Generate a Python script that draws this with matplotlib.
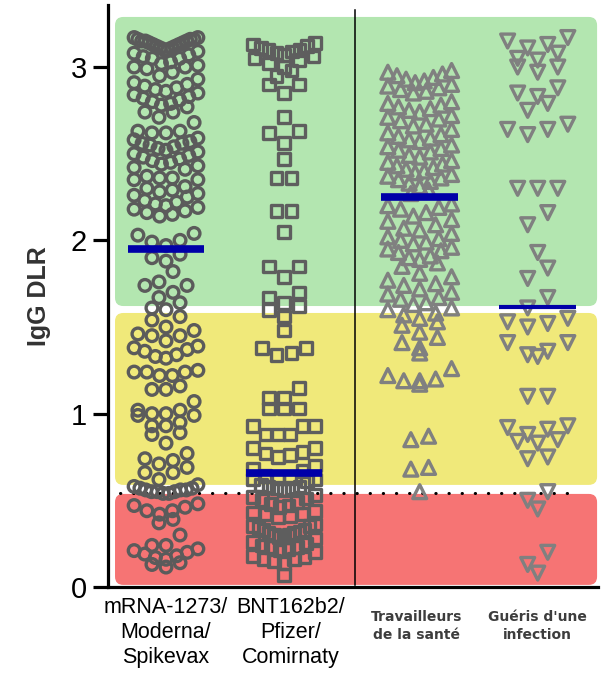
import numpy as np
import matplotlib
matplotlib.use('Agg')
import matplotlib.pyplot as plt
from matplotlib.patches import FancyBboxPatch

plt.rcParams['font.family'] = ['Liberation Sans', 'DejaVu Sans']

# valeurs IgG DLR
moderna = [3.17, 3.17, 3.16, 3.16, 3.16, 3.15, 3.15, 3.15, 3.14, 3.14, 3.13, 3.13,
           3.12, 3.12, 3.11, 3.11, 3.10, 3.10, 3.09, 3.08, 3.07, 3.06, 3.05, 3.05,
           3.03, 3.02, 3.01, 3.00, 3.00, 2.99, 2.97, 2.95, 2.93, 2.91, 2.90, 2.89,
           2.88, 2.87, 2.86, 2.85, 2.84, 2.83, 2.82, 2.81, 2.80, 2.79, 2.78, 2.77,
           2.74, 2.71, 2.74,
           2.68, 2.63, 2.62, 2.62, 2.63, 2.59, 2.58, 2.57, 2.56, 2.56, 2.55, 2.54,
           2.53, 2.52, 2.51, 2.50, 2.49, 2.48, 2.47, 2.46, 2.45, 2.44, 2.43, 2.42, 2.41,
           2.37, 2.36, 2.36, 2.35, 2.35, 2.31, 2.30, 2.29, 2.28, 2.27, 2.26, 2.25,
           2.23, 2.22, 2.21, 2.20, 2.19, 2.18, 2.17, 2.16, 2.15, 2.14,
           2.04, 2.03, 2.00, 1.99, 1.97, 1.92, 1.90, 1.88, 1.82, 1.76, 1.74, 1.74,
           1.70, 1.67, 1.64, 1.61, 1.60, 1.56, 1.54,
           1.50, 1.48, 1.46, 1.45, 1.45, 1.42, 1.39, 1.38, 1.37, 1.36, 1.34, 1.33,
           1.32, 1.25, 1.24, 1.24, 1.24, 1.22, 1.22, 1.16, 1.14, 1.14, 1.07, 1.02,
           1.02, 1.00, 1.00,
           0.99, 0.99, 0.95, 0.93, 0.93, 0.89, 0.88, 0.83, 0.77, 0.74, 0.73, 0.71,
           0.69, 0.66, 0.66, 0.62, 0.59, 0.58,
           0.57, 0.57, 0.56, 0.56, 0.56, 0.55, 0.55, 0.55, 0.54, 0.54,
           0.48, 0.47, 0.46, 0.44, 0.44, 0.42, 0.39, 0.37, 0.30,
           0.24, 0.24, 0.22, 0.21, 0.20, 0.19, 0.18, 0.17, 0.16, 0.14, 0.13, 0.115]

pfizer = [3.14, 3.13, 3.12, 3.11, 3.10, 3.10, 3.09, 3.08, 3.07, 3.06, 3.05, 3.04,
          3.02, 3.00, 2.98, 2.95,
          2.90, 2.90, 2.85, 2.71, 2.63, 2.62, 2.56, 2.47, 2.36, 2.36, 2.17, 2.17,
          2.05, 1.85, 1.85, 1.79, 1.70, 1.67, 1.64,
          1.62, 1.60, 1.56, 1.48, 1.38, 1.35, 1.34, 1.38, 1.15, 1.09, 1.03, 1.03,
          1.03, 1.09, 0.93, 0.88, 0.88, 0.88, 0.93, 0.93, 0.80, 0.77, 0.75, 0.76,
          0.78, 0.80, 0.70, 0.68, 0.67,
          0.64, 0.63, 0.63, 0.62, 0.62, 0.61, 0.59, 0.58, 0.58, 0.57, 0.57, 0.56,
          0.53, 0.52, 0.51, 0.50, 0.49, 0.48, 0.47, 0.46,
          0.44, 0.43, 0.42, 0.42, 0.41, 0.40,
          0.36, 0.35, 0.35, 0.34, 0.33, 0.33, 0.32, 0.31, 0.31, 0.30, 0.30, 0.29,
          0.29, 0.28,
          0.26, 0.25, 0.24, 0.23, 0.23, 0.22, 0.21, 0.20,
          0.18, 0.17, 0.16, 0.16, 0.15, 0.14, 0.07]

travailleurs = [2.98, 2.97, 2.96, 2.95, 2.94, 2.93, 2.92, 2.91, 2.90, 2.89, 2.88, 2.87,
                2.86, 2.85,
                2.80, 2.79, 2.78, 2.77, 2.76, 2.75, 2.74, 2.72, 2.71, 2.70, 2.69, 2.67,
                2.66, 2.64,
                2.62, 2.61, 2.60, 2.59, 2.58, 2.57, 2.55, 2.54, 2.53, 2.52, 2.51, 2.49,
                2.48, 2.46,
                2.45, 2.44, 2.43, 2.42, 2.41, 2.40, 2.39, 2.38, 2.37, 2.36, 2.35, 2.34,
                2.33, 2.31, 2.29, 2.27,
                2.21, 2.20, 2.19, 2.18, 2.16, 2.14, 2.12, 2.11, 2.09, 2.07, 2.06, 2.04,
                2.02, 2.01, 2.00, 1.99, 1.98, 1.96, 1.95, 1.94, 1.93, 1.91, 1.90, 1.89,
                1.87, 1.85, 1.81,
                1.79, 1.77, 1.75, 1.74, 1.72, 1.70, 1.69, 1.67, 1.66, 1.64, 1.63, 1.61,
                1.60, 1.58, 1.57, 1.55, 1.53, 1.51,
                1.47, 1.44, 1.41, 1.38, 1.35, 1.26, 1.22, 1.20, 1.19, 1.19, 1.17,
                0.87, 0.85, 0.69, 0.68, 0.55]

gueris = [3.17, 3.15, 3.13, 3.11, 3.08, 3.05, 3.04, 3.00, 3.00, 2.97,
          2.88, 2.85, 2.83, 2.79, 2.75, 2.67, 2.64, 2.64, 2.61,
          2.30, 2.30, 2.30, 2.16, 2.09, 1.93, 1.84, 1.78, 1.67,
          1.61, 1.55, 1.53, 1.52, 1.50, 1.41, 1.41, 1.36, 1.34, 1.33,
          1.10, 1.10, 0.93, 0.92, 0.91, 0.88, 0.85, 0.84, 0.83, 0.75, 0.74,
          0.55, 0.50, 0.45, 0.20, 0.13, 0.08]

medianes = [1.95, 0.66, 2.25, 1.615]
etiquettes = ['mRNA-1273/\nModerna/\nSpikevax', 'BNT162b2/\nPfizer/\nComirnaty',
              'Travailleurs\nde la santé', "Guéris d'une\ninfection"]
zones = [(0.012, 0.537, '#f67474'), (0.589, 1.581, '#f0e97a'), (1.621, 3.289, '#b3e6b0')]
seuil = 0.545

positions = [0, 1, 2.15, 3.15]
pos_etiq = [-0.005, 1.06, 2.12, 3.15]
marqueurs = ['o', 's', '^', 'v']
couleurs = ['#5b5b5b', '#5e5e5e', '#808080', '#808080']
tailles = [8.4, 8.4, 10, 10]
demis = [0.27, 0.26, 0.27, 0.31]
pas = [0.119, 0.125, 0.15, 0.17]


def essaim(vals, centre, demi, ecart, haut=0.075):
    v = np.sort(np.asarray(vals, dtype=float))[::-1]
    xs, ys = [], []
    i = 0
    while i < len(v):
        j = i
        while j < len(v) and v[i] - v[j] < haut:
            j += 1
        rang = np.sort(v[i:j])
        n = len(rang)
        d = ecart if n < 2 else min(ecart, 2 * demi / (n - 1))
        off = (np.arange(n) - (n - 1) / 2) * d
        ordre = np.argsort(np.abs(off), kind='stable')
        for k in range(n):
            xs.append(centre + off[ordre[k]])
            ys.append(rang[k])
        i = j
    return np.array(xs), np.array(ys)


fig = plt.figure(figsize=(6.02, 6.74), dpi=100)
ax = fig.add_axes([0.1794, 0.1291, 0.814, 0.8635])
ax.set_xlim(-0.4915, 3.661)
ax.set_ylim(0, 3.358)

for bas, haut, c in zones:
    ax.add_patch(FancyBboxPatch((-0.432, bas), 3.653 + 0.432, haut - bas,
                                boxstyle='round,pad=0,rounding_size=0.07',
                                mutation_aspect=0.68, fc=c, ec='none', zorder=0))

ax.plot([-0.39, 3.45], [seuil, seuil], color='black', lw=2.2,
        linestyle=(0, (0.1, 4.2)), dash_capstyle='round', zorder=1)
ax.plot([1.602, 1.602], [0.012, 3.33], color='black', lw=1.1, zorder=1)

donnees = [moderna, pfizer, travailleurs, gueris]
for g in range(4):
    xs, ys = essaim(donnees[g], positions[g], demis[g], pas[g])
    ax.scatter(xs, ys, marker=marqueurs[g], s=tailles[g] ** 2, facecolors='none',
               edgecolors=couleurs[g], linewidths=2.4, zorder=2)

for g in range(4):
    lw = 3 if g == 3 else 5.5
    ax.plot([positions[g] - 0.325, positions[g] + 0.325], [medianes[g], medianes[g]],
            color='#0000a8', lw=lw, solid_capstyle='butt', zorder=3)

for s in ['top', 'right']:
    ax.spines[s].set_visible(False)
ax.spines['left'].set_linewidth(2.3)
ax.spines['bottom'].set_linewidth(2.3)
ax.set_yticks([0, 1, 2, 3])
ax.tick_params(axis='y', length=11, width=2.3, labelsize=21, pad=4)
ax.set_xticks([])
ax.set_ylabel('IgG DLR', fontsize=18, fontweight='bold', color='#333333', labelpad=14)

for g in range(4):
    if g < 2:
        ax.text(pos_etiq[g], -0.017, etiquettes[g], transform=ax.get_xaxis_transform(),
                ha='center', va='top', fontsize=15.5, linespacing=1.25)
    else:
        ax.text(pos_etiq[g], -0.04, etiquettes[g], transform=ax.get_xaxis_transform(),
                ha='center', va='top', fontsize=10, fontweight='bold', color='#3d3d3d',
                family=['DejaVu Sans'], linespacing=1.35)

fig.savefig('out.png', dpi=100)
